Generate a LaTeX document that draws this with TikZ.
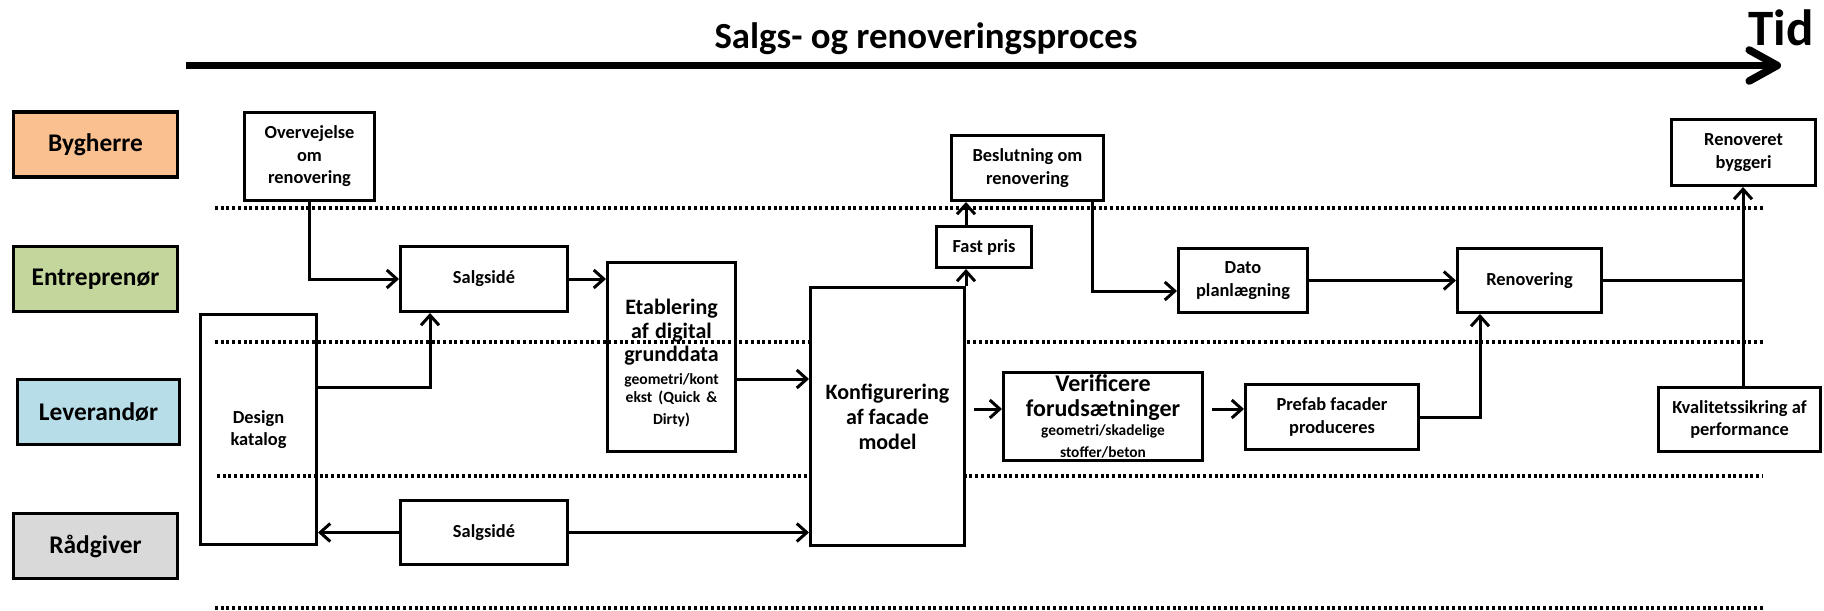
\documentclass[tikz,border=0pt]{standalone}
\usepackage{fontspec}
\setmainfont{Carlito}
\usetikzlibrary{arrows.meta}
\definecolor{cBy}{HTML}{FAC090}
\definecolor{cEn}{HTML}{C3D69B}
\definecolor{cLe}{HTML}{B7DEE8}
\definecolor{cRa}{HTML}{D9D9D9}
\begin{document}
\begin{tikzpicture}[x=0.5pt,y=-0.5pt,
  lane/.style={draw=black, line width=1.7pt, inner sep=0pt, minimum width=81.8pt, minimum height=32.3pt, font=\bfseries\fontsize{12.7}{15}\selectfont},
  box/.style={draw=black, line width=1.7pt, inner sep=0pt, align=center, font=\bfseries\fontsize{9.2}{11.2}\selectfont},
  conn/.style={line width=1.5pt, -{Straight Barb[length=5pt,width=9pt]}},
  link/.style={line width=1.5pt},
  lanesep/.style={line width=1.6pt, dash pattern=on 1.5pt off 1.35pt},
]
\useasboundingbox (0,0) rectangle (1824,610);

% lane separators
\coordinate (d1a) at (215,208); \coordinate (d1b) at (1765,208);
\coordinate (d2a) at (215,342); \coordinate (d2b) at (1765,342);
\coordinate (d3a) at (217,476); \coordinate (d3b) at (1763,476);
\coordinate (d4a) at (215,608); \coordinate (d4b) at (1765,608);
\draw[lanesep] (d1a) -- (d1b);
\draw[lanesep] (d2a) -- (d2b);
\draw[lanesep] (d3a) -- (d3b);
\draw[lanesep] (d4a) -- (d4b);

% title and time arrow
\node[font=\bfseries\fontsize{18.4}{21}\selectfont, anchor=base] (title) at (926,49) {Salgs- og renoveringsproces};
\node[font=\bfseries\fontsize{25.5}{30}\selectfont, anchor=base] (tid) at (1781,46) {Tid};
\coordinate (ts) at (186,65.5); \coordinate (te) at (1781,65.5);
\draw[line width=3.8pt, -{Straight Barb[length=14pt,width=15.5pt,round]}] (ts) -- (te);

% lanes
\node[lane, fill=cBy] (by) at (95.5,144.5) {Bygherre};
\node[lane, fill=cEn] (en) at (95.5,279) {Entreprenør};
\node[lane, fill=cLe, minimum width=80.8pt] (le) at (98.5,412) {Leverandør};
\node[lane, fill=cRa] (ra) at (95.5,546) {Rådgiver};

% process boxes
\node[box, minimum width=64.8pt, minimum height=43.8pt] (ov) at (309.5,156.5) {Overvejelse\\om\\renovering};
\node[box, minimum width=83.3pt, minimum height=32.3pt] (s1) at (484,279) {Salgsidé};
\node[box, minimum width=83.3pt, minimum height=31.8pt] (s2) at (484,532.5) {Salgsidé};
\node[box, minimum width=57.8pt, minimum height=114.8pt] (dk) at (258.5,429.5) {Design\\katalog};
\node[box, text width=63.8pt, minimum height=94.3pt] (et) at (671.5,357) {\fontsize{11}{11.7}\selectfont\rule{0pt}{14pt}Etablering\\af digital\\grunddata\par\vspace{2.5pt}\fontsize{7.8}{9}\selectfont geometri/kont\\ekst (Quick \&\\Dirty)};
\node[box, fill=white, minimum width=76.8pt, minimum height=128.8pt, font=\bfseries\fontsize{11}{12.5}\selectfont] (kf) at (887.5,416.5) {Konfigurering\\af facade\\model};
\node[box, minimum width=47.3pt, minimum height=20.3pt] (fp) at (984,247) {Fast pris};
\node[box, minimum width=75.8pt, minimum height=32.3pt] (bs) at (1027.5,168) {Beslutning om\\renovering};
\node[box, text width=99.3pt, minimum height=43.8pt] (vf) at (1103,416.5) {\fontsize{12}{12.5}\selectfont Verificere\\forudsætninger\par\vspace{0.5pt}\fontsize{7.7}{9}\selectfont geometri/skadelige\\stoffer/beton};
\node[box, minimum width=64.3pt, minimum height=31.8pt] (dt) at (1243,280.5) {Dato\\planlægning};
\node[box, minimum width=71.8pt, minimum height=31.8pt] (rn) at (1529.5,280.5) {Renovering};
\node[box, minimum width=86.3pt, minimum height=32.3pt] (pf) at (1332,417) {Prefab facader\\produceres};
\node[box, minimum width=71.8pt, minimum height=32.8pt] (rb) at (1743.5,152.5) {Renoveret\\byggeri};
\node[box, minimum width=80.8pt, minimum height=31.8pt] (kv) at (1739.5,419.5) {Kvalitetssikring af\\performance};

% helper coordinates
\coordinate (p3) at (430,387);
\coordinate (p4) at (0,379);
\coordinate (p9) at (1092,291);
\coordinate (p11) at (0,409);
\coordinate (p13) at (1480,0);
\coordinate (p15) at (1743,0);

% connectors
\draw[conn] (ov.south) |- (s1.west);
\draw[conn] (s1.east) -- (s1.east -| et.west);
\draw[conn] (dk.east |- p3) -| (p3 |- s1.south);
\draw[conn] (et.east |- p4) -- (kf.west |- p4);
\draw[conn] (s2.west) -- (dk.east |- s2.west);
\draw[conn] (s2.east) -- (kf.west |- s2.east);
\draw[conn] (kf.north east) -- (kf.north east |- fp.south);
\draw[conn] (fp.north -| kf.east) -- (bs.south -| kf.east);
\draw[conn] (bs.south -| p9) |- (dt.west |- p9);
\draw[conn] (dt.east) -- (rn.west);
\draw[conn] ([xshift=4pt]kf.east |- p11) -- (vf.west |- p11);
\draw[conn] ([xshift=4pt]vf.east |- p11) -- (pf.west |- p11);
\draw[conn] (pf.east) -| (p13 |- rn.south);
\draw[link] (rn.east) -- (rn.east -| p15);
\draw[conn] (kv.north -| p15) -- (rb.south -| p15);
\end{tikzpicture}
\end{document}
